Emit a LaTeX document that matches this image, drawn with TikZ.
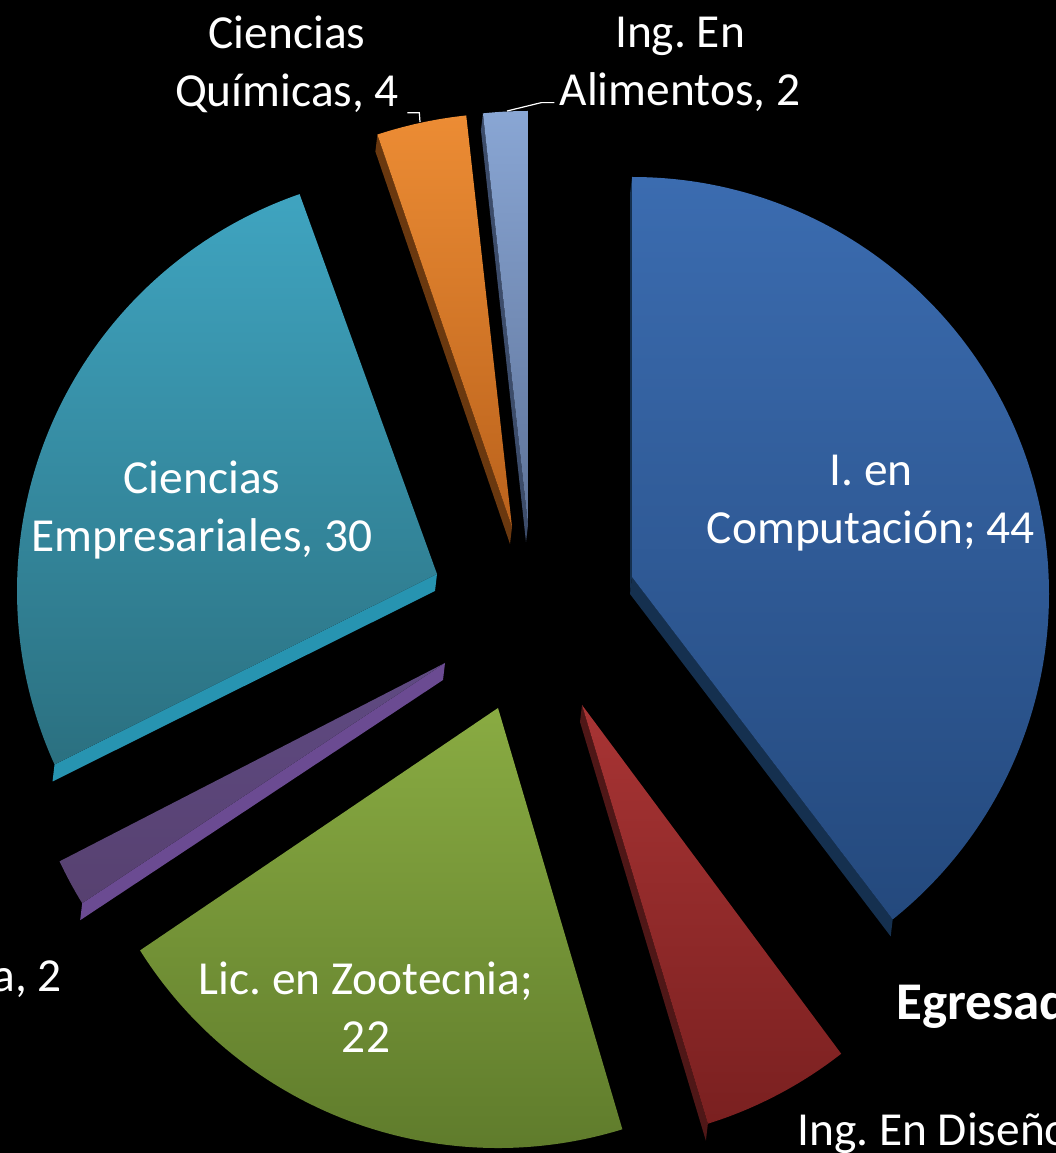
\documentclass[tikz,border=0pt]{standalone}
\usepackage{fontspec}
\setmainfont{Carlito}
\frenchspacing

\definecolor{bluT}{HTML}{3B6CB0}\definecolor{bluB}{HTML}{24497D}\definecolor{bluS}{HTML}{15304F}
\definecolor{redT}{HTML}{A83434}\definecolor{redB}{HTML}{7A2020}\definecolor{redS}{HTML}{4F1717}
\definecolor{grnT}{HTML}{89AB42}\definecolor{grnB}{HTML}{5C782A}\definecolor{grnS}{HTML}{48601F}
\definecolor{purT}{HTML}{5F4A82}\definecolor{purB}{HTML}{574170}\definecolor{purS}{HTML}{6B4B92}
\definecolor{cyaT}{HTML}{3FA4C0}\definecolor{cyaB}{HTML}{2B7080}\definecolor{cyaS}{HTML}{2794B1}
\definecolor{orgT}{HTML}{EC8C34}\definecolor{orgB}{HTML}{BA621C}\definecolor{orgS}{HTML}{6A380F}
\definecolor{lbuT}{HTML}{89A6D4}\definecolor{lbuB}{HTML}{5E7399}\definecolor{lbuS}{HTML}{3C4C6A}

% apex, arc centre, start angle, end angle, radius
\newcommand{\pieslice}[5]{(#1) -- ([shift={(#3:#5)}]#2) arc[start angle=#3,end angle=#4,radius=#5] -- cycle}
% apex, arc centre, edge angle, radius: the side face under one straight edge
\newcommand{\sideband}[4]{(#1) -- ([shift={(#3:#4)}]#2) -- ++(-2,-17) -- ([shift={(-2,-17)}]#1) -- cycle}

\tikzset{
  lbl/.style={text=white, align=center, inner sep=0pt, font=\fontsize{23.7}{29}\selectfont},
  leader/.style={white, line width=0.6pt}
}

\begin{document}
\begin{tikzpicture}[x=0.5pt,y=0.5pt]
    \useasboundingbox (0,0) rectangle (1056,1153);
    \fill[black] (0,0) rectangle (1056,1153);
    \clip (0,0) rectangle (1056,1153);
    % side faces
    \foreach \ax/\ay/\s/\r/\col in {632/576/90/417/blu, 632/576/-51.3/417/blu, 582/448/-72.6/421/red,
        445/490/-148.4/426/pur, 437/579/204.4/420/cya, 512/626/108.2/431/org, 528/628/96/431/lbu}
        \fill[\col S] \sideband{\ax,\ay}{\ax,\ay-17}{\s}{\r};
    % top faces
    \foreach \ax/\ay/\aa/\ab/\r/\col in {632/576/90/-51.3/417/blu, 582/448/-52/-72.6/421/red,
        498/445/-72.9/-147.8/423/grn, 445/490/-148.4/-154.8/426/pur, 437/579/204.4/109.1/420/cya,
        512/626/108.2/96.1/431/org, 528/628/96/90/431/lbu}
        \path[top color=\col T, bottom color=\col B] \pieslice{\ax,\ay}{\ax,\ay-17}{\aa}{\ab}{\r};
    % labels
    \node[lbl] (lbComp) at (871,650) {I. en\\Computación; 44};
    \node[lbl] (lbEmp) at (202,643) {Ciencias\\Empresariales, 30};
    \node[lbl] (lbZoo) at (366,146) {Lic. en Zootecnia;\\22};
    \node[lbl] (lbQuim) at (287,1089) {Ciencias\\Químicas, 4};
    \node[lbl] (lbAlim) at (680,1089) {Ing. En\\Alimentos, 2};
    \node[lbl, anchor=base east] (lbPur) at (62,161) {a, 2};
    \node[lbl, anchor=base west] (lbDis) at (797,8) {Ing. En Diseño};
    \node[lbl, anchor=base west, font=\bfseries\fontsize{26.5}{32}\selectfont] (title) at (896,133) {Egresad};
    % leader lines
    \coordinate (qTip) at (420,1031);
    \coordinate (aTip) at (507,1042);
    \draw[leader] ([shift={(8,0)}]lbQuim.south east) -- ++(12,0) -- (qTip);
    \draw[leader] ([shift={(-5,9)}]lbAlim.south west) -- ++(-13,0) -- (aTip);
\end{tikzpicture}
\end{document}
